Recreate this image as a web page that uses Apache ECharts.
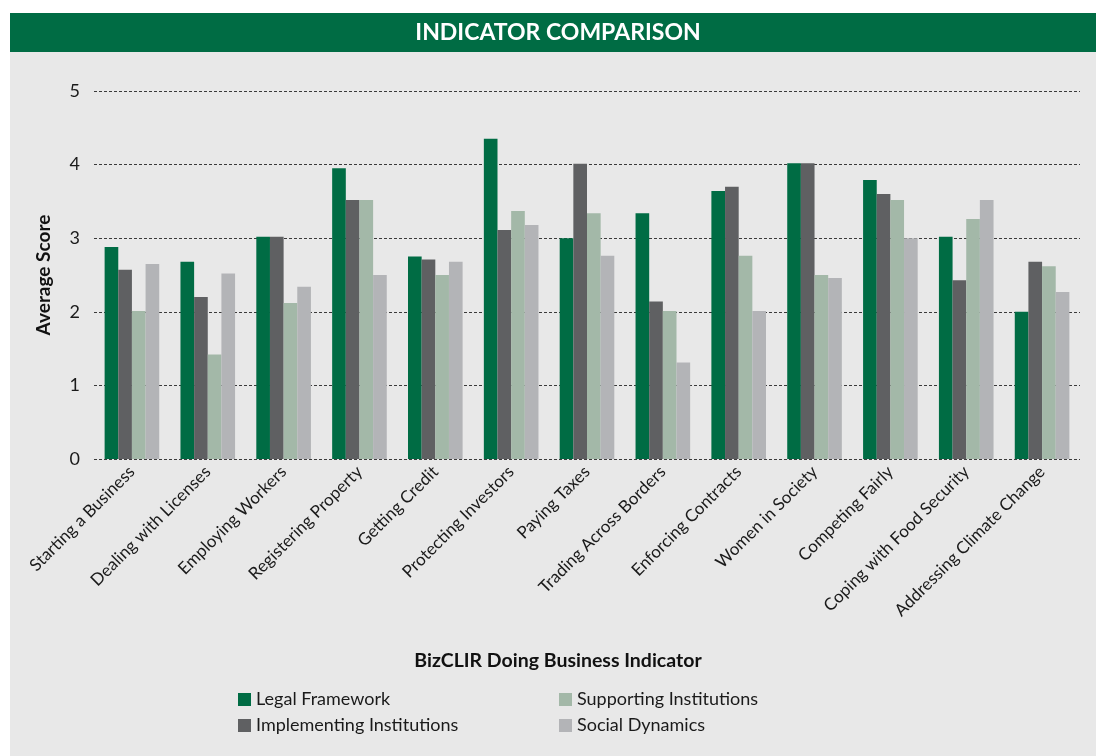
<!DOCTYPE html>
<html>
<head>
<meta charset="utf-8">
<script src="https://cdn.jsdelivr.net/npm/echarts@6/dist/echarts.min.js"></script>
<style>
  html, body { margin: 0; padding: 0; background: #ffffff; }
  #chart { width: 1096px; height: 756px; }
</style>
</head>
<body>
<div id="chart"></div>
<script>
// BizCLIR indicator categories
const categories = [
  'Starting a Business', 'Dealing with Licenses', 'Employing Workers',
  'Registering Property', 'Getting Credit', 'Protecting Investors',
  'Paying Taxes', 'Trading Across Borders', 'Enforcing Contracts',
  'Women in Society', 'Competing Fairly', 'Coping with Food Security',
  'Addressing Climate Change'
];

// Average scores per dimension
const legalFramework          = [2.88, 2.68, 3.02, 3.95, 2.75, 4.35, 3.00, 3.34, 3.64, 4.02, 3.79, 3.02, 2.00];
const implementingInstitutions = [2.57, 2.20, 3.02, 3.52, 2.71, 3.11, 4.01, 2.14, 3.70, 4.02, 3.60, 2.43, 2.68];
const supportingInstitutions  = [2.01, 1.42, 2.12, 3.52, 2.50, 3.37, 3.34, 2.01, 2.76, 2.50, 3.52, 3.26, 2.62];
const socialDynamics          = [2.65, 2.52, 2.34, 2.50, 2.68, 3.18, 2.76, 1.31, 2.01, 2.46, 3.00, 3.52, 2.27];

const yTicks = [0, 1, 2, 3, 4, 5];

const FONT = 'Lato, "Open Sans", sans-serif';
const colors = ['#006c44', '#5f6062', '#a3b8a8', '#b3b4b7'];

const chart = echarts.init(document.getElementById('chart'), null, { renderer: 'canvas' });

const bar = (name, data, color) => ({
  name, type: 'bar', data,
  barGap: '0%', barCategoryGap: '28%',
  itemStyle: { color },
  emphasis: { disabled: true }
});

const legendText = { fontFamily: FONT, fontSize: 18, color: '#1a1a1a', lineHeight: 18 };

chart.setOption({
  animation: false,
  backgroundColor: '#ffffff',
  textStyle: { fontFamily: FONT },
  graphic: [
    { type: 'rect', z: -10, shape: { x: 10, y: 52, width: 1086, height: 704 }, style: { fill: '#e8e8e8' } },
    { type: 'rect', z: -10, shape: { x: 10, y: 13, width: 1086, height: 39 }, style: { fill: '#006c44' } },
    {
      type: 'text', z: 10, x: 558, y: 33,
      style: {
        text: 'INDICATOR COMPARISON', fill: '#ffffff',
        font: 'bold 23px ' + FONT, textAlign: 'center', textVerticalAlign: 'middle'
      }
    },
    {
      type: 'text', z: 10, x: 558, y: 661,
      style: {
        text: 'BizCLIR Doing Business Indicator', fill: '#111111',
        font: 'bold 19.5px ' + FONT, textAlign: 'center', textVerticalAlign: 'middle'
      }
    }
  ],
  grid: { left: 94, right: 16, top: 91, bottom: 297 },
  legend: [
    {
      orient: 'vertical', left: 238, top: 690.5, padding: 0,
      itemWidth: 13, itemHeight: 13, itemGap: 8,
      icon: 'rect', textStyle: legendText,
      data: ['Legal Framework', 'Implementing Institutions'],
      selectedMode: false
    },
    {
      orient: 'vertical', left: 559, top: 690.5, padding: 0,
      itemWidth: 13, itemHeight: 13, itemGap: 8,
      icon: 'rect', textStyle: legendText,
      data: ['Supporting Institutions', 'Social Dynamics'],
      selectedMode: false
    }
  ],
  xAxis: {
    type: 'category',
    data: categories,
    axisLine: { show: false },
    axisTick: { show: false },
    axisLabel: {
      rotate: 45, interval: 0, margin: 10,
      fontFamily: FONT, fontSize: 17, color: '#1a1a1a'
    }
  },
  yAxis: {
    type: 'value',
    min: yTicks[0], max: yTicks[yTicks.length - 1], interval: 1,
    name: 'Average Score',
    nameLocation: 'middle',
    nameGap: 41,
    nameTextStyle: { fontFamily: FONT, fontSize: 19, fontWeight: 'bold', color: '#111' },
    axisLine: { show: false },
    axisTick: { show: false },
    axisLabel: { margin: 14, fontFamily: FONT, fontSize: 18, color: '#1a1a1a' },
    splitLine: { show: true, lineStyle: { color: '#3a3a3a', type: [3, 2], width: 1 } }
  },
  series: [
    bar('Legal Framework', legalFramework, colors[0]),
    bar('Implementing Institutions', implementingInstitutions, colors[1]),
    bar('Supporting Institutions', supportingInstitutions, colors[2]),
    bar('Social Dynamics', socialDynamics, colors[3])
  ]
});
</script>
</body>
</html>
